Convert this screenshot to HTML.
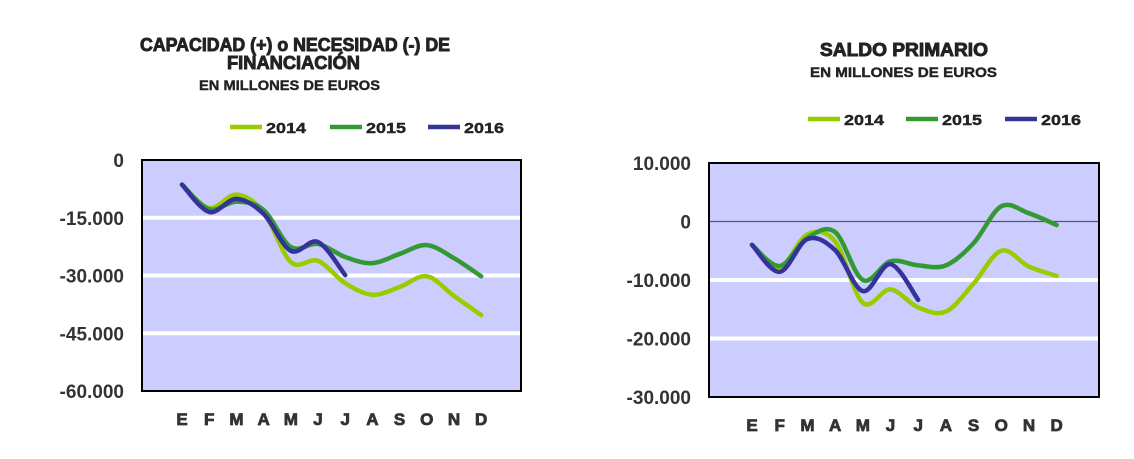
<!DOCTYPE html>
<html><head><meta charset="utf-8"><style>
body{margin:0;background:#fff;width:1134px;height:459px;overflow:hidden}
svg{display:block;font-family:"Liberation Sans",Arial,sans-serif}
</style></head><body>
<svg id="s" width="1134" height="459"></svg>
<script>
const months=["E","F","M","A","M","J","J","A","S","O","N","D"];
const seriesNames=["2014","2015","2016"];
const colors=["#99cc00","#339933","#333399"];
const left2014=[-6400,-12500,-9000,-13500,-26500,-26200,-32000,-35000,-33000,-30200,-35300,-40300];
const left2015=[-6400,-12800,-10800,-13000,-22600,-21800,-25200,-26800,-24400,-22100,-25500,-30200];
const left2016=[-6400,-13500,-10100,-14000,-23600,-21300,-29900];
const leftTicks=[0,-15000,-30000,-45000,-60000];
const leftTickLabels=["0","-15.000","-30.000","-45.000","-60.000"];
const right2014=[-4000,-7800,-2200,-3400,-13900,-11600,-14700,-15400,-10600,-5000,-7700,-9300];
const right2015=[-4000,-7600,-2800,-1800,-10000,-6800,-7500,-7500,-3700,2600,1400,-600];
const right2016=[-4000,-8600,-3000,-4900,-11900,-7300,-13400];
const rightTicks=[10000,0,-10000,-20000,-30000];
const rightTickLabels=["10.000","0","-10.000","-20.000","-30.000"];

const NS="http://www.w3.org/2000/svg";
const svg=document.getElementById('s');
function mk(tag,attrs,parent,text){const e=document.createElementNS(NS,tag);for(const k in attrs)e.setAttribute(k,attrs[k]);if(text!==undefined)e.textContent=text;(parent||svg).appendChild(e);return e;}
function smooth(pts){let d=`M${pts[0][0]},${pts[0][1]}`;for(let i=0;i<pts.length-1;i++){const p0=pts[i-1]||pts[i],p1=pts[i],p2=pts[i+1],p3=pts[i+2]||p2;const t=1/6;d+=` C${p1[0]+(p2[0]-p0[0])*t},${p1[1]+(p2[1]-p0[1])*t} ${p2[0]-(p3[0]-p1[0])*t},${p2[1]-(p3[1]-p1[1])*t} ${p2[0]},${p2[1]}`;}return d;}

function chart(cfg){
  const g=mk('g',{});
  
  
  const y=v=>cfg.y0+(cfg.max-v)/(cfg.max-cfg.min)*(cfg.y1-cfg.y0);
  const x=i=>cfg.mx0+i*cfg.step;
  const bg=mk('rect',{x:cfg.x0,y:cfg.y0,width:cfg.x1-cfg.x0,height:cfg.y1-cfg.y0,fill:'#ccccff'},g);
  
  
  cfg.ticks.forEach((t,i)=>{
    const yy=y(t);
    if(t!==cfg.max&&t!==cfg.min){
      const gl=mk('line',{x1:cfg.x0,x2:cfg.x1,y1:yy,y2:yy,stroke:t===0&&cfg.zeroLine?'#555577':'#fff','stroke-width':t===0&&cfg.zeroLine?1.2:4},g);
      
      
    }
    const tl=mk('text',{x:cfg.x0-18,y:yy+7,'text-anchor':'end','font-size':19,'font-weight':'bold',fill:'#333'},g,cfg.tickLabels[i]);
    
    
  });
  const fr=mk('rect',{x:cfg.x0,y:cfg.y0,width:cfg.x1-cfg.x0,height:cfg.y1-cfg.y0,fill:'none',stroke:'#000','stroke-width':2},g);
  
  
  months.forEach((m,i)=>{
    const t=mk('text',{x:x(i),y:cfg.y1+34,'text-anchor':'middle','font-size':17,'font-weight':'900',fill:'#333',stroke:'#333','stroke-width':0.8},g,m);
    
    
  });
  cfg.series.forEach((s,k)=>{
    const p=mk('path',{d:smooth(s.map((v,i)=>[x(i),y(v)])),fill:'none',stroke:colors[k],'stroke-width':4.5,'stroke-linecap':'round','stroke-linejoin':'round'},g);
    
    
  });
  cfg.legend.forEach((lx,k)=>{
    const l=mk('line',{x1:lx,x2:lx+32,y1:cfg.ly,y2:cfg.ly,stroke:colors[k],'stroke-width':4.5},g);
    
    
    const t=mk('text',{x:lx+36,y:cfg.ly+6,'font-size':15,'font-weight':'bold',fill:'#222',stroke:'#222','stroke-width':0.4,textLength:40,lengthAdjust:'spacingAndGlyphs'},g,seriesNames[k]);
    
    
  });
  cfg.titles.forEach(tt=>{
    const t=mk('text',{x:tt[4],y:tt[1],'font-size':tt[2],'font-weight':'bold',fill:'#222',stroke:'#222','stroke-width':tt[2]>15?0.9:0.4,textLength:tt[5],lengthAdjust:'spacingAndGlyphs'},g,tt[0]);
    
    
  });
}
chart({name:'financing-chart',x0:142,x1:521,y0:160,y1:391,max:0,min:-60000,mx0:182,step:27.2,
  ticks:leftTicks,tickLabels:leftTickLabels,series:[left2014,left2015,left2016],legend:[230,330,428],ly:127,
  titles:[["CAPACIDAD (+) o NECESIDAD (-) DE",51,18,'chart-title',140,310],["FINANCIACIÓN",69,18,'chart-title-line2',227,133],["EN MILLONES DE EUROS",90,14,'chart-subtitle',199,181]]});
chart({name:'primary-balance-chart',x0:709,x1:1099,y0:163,y1:397,max:10000,min:-30000,mx0:752,step:27.7,zeroLine:true,
  ticks:rightTicks,tickLabels:rightTickLabels,series:[right2014,right2015,right2016],legend:[808,906,1005],ly:119,
  titles:[["SALDO PRIMARIO",56,18,'chart-title',820,168],["EN MILLONES DE EUROS",77,14,'chart-subtitle',810,187]]});
</script>
</body></html>
